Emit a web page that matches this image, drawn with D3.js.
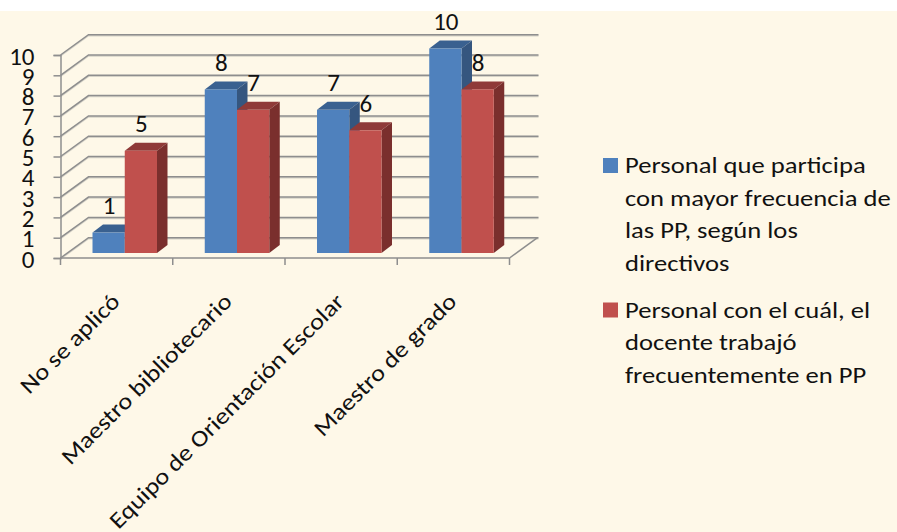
<!DOCTYPE html>
<html><head><meta charset="utf-8">
<script src="https://cdn.jsdelivr.net/npm/d3@7"></script>
<style>html,body{margin:0;padding:0;background:#fff}svg{display:block}text{font-family:Carlito,Lato,"Open Sans",sans-serif;fill:#111}</style>
</head><body><script>
const categories = ["No se aplicó","Maestro bibliotecario","Equipo de Orientación Escolar","Maestro de grado"];
const seriesNames = ["directivos","docentes"];
const seriesA = [1,8,7,10];
const seriesB = [5,7,6,8];
const yTicks = [0,1,2,3,4,5,6,7,8,9,10];
const legendA = ["Personal que participa","con mayor frecuencia de","las PP, según los","directivos"];
const legendB = ["Personal con el cuál, el","docente trabajó","frecuentemente en PP"];
const colors = {directivos:{front:"#4F81BD",side:"#35567F",top:"#3A6190"},docentes:{front:"#C0504D",side:"#7A2F2D",top:"#8F3A38"}};

const W=897,H=532,wallDx=28,wallDy=20.3,barDx=10.5,barDy=8;
const svg=d3.select("body").append("svg").attr("width",W).attr("height",H);
svg.append("rect").attr("width",W).attr("height",H).attr("fill","#fff");
svg.append("rect").attr("y",11).attr("width",W).attr("height",H-11).attr("fill","#FEF8E8");

const y=d3.scaleLinear().domain([0,10]).range([258,55]);
const barY=d3.scaleLinear().domain([0,10]).range([253,48.5]);
const x=d3.scaleBand().domain(categories).range([60.5,509.5]);
const inner=d3.scaleBand().domain(seriesNames).range([32,96.5]);
const gridC="#8E8E8E";

// walls
const grid=svg.append("g");
grid.selectAll("path.shadow").data(yTicks).join("path").attr("class","shadow")
 .attr("d",d=>`M60.5,${y(d)+1}L${60.5+wallDx},${y(d)-wallDy+1}H${60.5+wallDx+450}`)
 .attr("fill","none").attr("stroke","#d6d3c8").attr("stroke-width",1.5);
grid.selectAll("path.line").data(yTicks).join("path").attr("class","line")
 .attr("d",d=>`M60.5,${y(d)}L${60.5+wallDx},${y(d)-wallDy}H${60.5+wallDx+450}`)
 .attr("fill","none").attr("stroke",gridC).attr("stroke-width",1.5);
// floor
grid.append("path").attr("d",`M${x.range()[1]},${y(0)}L${x.range()[1]+wallDx},${y(0)-wallDy}`).attr("fill","none").attr("stroke",gridC).attr("stroke-width",1.5);

// axes
const yAxis=d3.axisLeft(y).tickValues(yTicks).tickSize(7).tickPadding(19).tickFormat(d3.format("d"));
const gy=svg.append("g").attr("transform","translate(60.5,0)").call(yAxis);
const xPositions=[...categories.map(c=>x(c)),x.range()[1]];
const gx=svg.append("g").attr("transform",`translate(0,${y(0)})`);
gx.append("line").attr("x1",x.range()[0]).attr("x2",x.range()[1]).attr("stroke",gridC).attr("stroke-width",1.5);
gx.selectAll("line.t").data(xPositions).join("line").attr("class","t").attr("x1",d=>d).attr("x2",d=>d).attr("y1",0).attr("y2",7).attr("stroke",gridC).attr("stroke-width",1.5);
gy.select(".domain").attr("stroke",gridC).attr("stroke-width",1.5);
gy.selectAll(".tick line").attr("stroke",gridC).attr("stroke-width",1.5);
gy.selectAll(".tick text").style("font-size","25px").attr("fill","#111").attr("dy","0.36em");

// bars
const flat=categories.flatMap((c,i)=>[{c,s:"directivos",v:seriesA[i]},{c,s:"docentes",v:seriesB[i]}]);
const bar=svg.append("g").selectAll("g").data(flat).join("g");
const bx=d=>x(d.c)+inner(d.s), bw=inner.bandwidth();
bar.append("path").attr("fill",d=>colors[d.s].top)
 .attr("d",d=>`M${bx(d)},${barY(d.v)}l${barDx},${-barDy}h${bw}l${-barDx},${barDy}z`);
bar.append("path").attr("fill",d=>colors[d.s].side)
 .attr("d",d=>`M${bx(d)+bw},${barY(d.v)}l${barDx},${-barDy}V${barY(0)-barDy}l${-barDx},${barDy}z`);
bar.append("rect").attr("fill",d=>colors[d.s].front)
 .attr("x",bx).attr("y",d=>barY(d.v)).attr("width",bw).attr("height",d=>barY(0)-barY(d.v));
svg.append("g").selectAll("text").data(flat).join("text")
 .attr("x",d=>bx(d)+bw/2+0.5).attr("y",d=>barY(d.v)-18.5).attr("text-anchor","middle")
 .style("font-size","25px").text(d=>d.v);

// category labels
svg.append("g").selectAll("text").data(categories).join("text")
 .attr("text-anchor","end")
 .attr("transform",c=>`translate(${x(c)+x.bandwidth()/2+4.5},${y(0)+45}) rotate(-45) scale(1.15,1)`)
 .style("font-size","23px").text(c=>c);

// legend
const lg=svg.append("g");
const drawLegend=(lines,key,top)=>{
 lg.append("rect").attr("x",603).attr("y",top-15).attr("width",15).attr("height",15).attr("fill",colors[key].front);
 lines.forEach((l,i)=>lg.append("text").attr("transform",`translate(625,${top+i*32.7}) scale(1.21,1)`).style("font-size","22px").text(l));
};
drawLegend(legendA,"directivos",173);
drawLegend(legendB,"docentes",317.5);
</script></body></html>
